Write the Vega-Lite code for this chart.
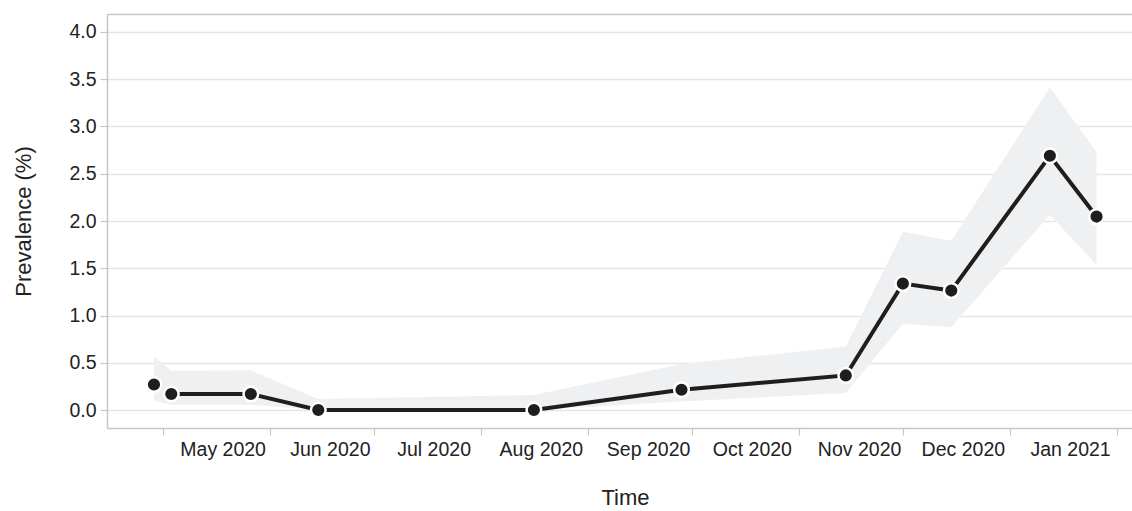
{
  "$schema": "https://vega.github.io/schema/vega-lite/v6.json",
  "autosize": "none",
  "padding": {"left": 107, "top": 14, "right": 0, "bottom": 83},
  "width": 1025,
  "height": 414,
  "background": "white",
  "config": {
    "view": {"stroke": null},
    "font": "Liberation Sans",
    "axis": {
      "labelFont": "Liberation Sans",
      "titleFont": "Liberation Sans",
      "labelColor": "#222222",
      "titleColor": "#222222",
      "labelFontSize": 19.5,
      "titleFontSize": 22,
      "titleFontWeight": "normal",
      "domainColor": "#c6c6c6",
      "domainWidth": 1.5,
      "tickColor": "#c6c6c6",
      "tickWidth": 1.2,
      "tickSize": 7,
      "gridColor": "#e6e6e6",
      "gridWidth": 1.3
    }
  },
  "data": {
    "values": [
      {"date": "2020-04-28T12:00:00", "est": 0.27, "lo": 0.10, "hi": 0.57},
      {"date": "2020-05-03T12:00:00", "est": 0.17, "lo": 0.056, "hi": 0.415},
      {"date": "2020-05-26T12:00:00", "est": 0.17, "lo": 0.056, "hi": 0.42},
      {"date": "2020-06-15T00:00:00", "est": 0.0, "lo": 0.0, "hi": 0.116},
      {"date": "2020-08-16T08:00:00", "est": 0.0, "lo": 0.0, "hi": 0.16},
      {"date": "2020-09-28T00:00:00", "est": 0.215, "lo": 0.09, "hi": 0.486},
      {"date": "2020-11-14T12:00:00", "est": 0.366, "lo": 0.18, "hi": 0.672},
      {"date": "2020-12-01T00:00:00", "est": 1.338, "lo": 0.912, "hi": 1.885},
      {"date": "2020-12-15T00:00:00", "est": 1.264, "lo": 0.877, "hi": 1.79},
      {"date": "2021-01-12T12:00:00", "est": 2.69, "lo": 2.066, "hi": 3.414},
      {"date": "2021-01-26T00:00:00", "est": 2.047, "lo": 1.534, "hi": 2.73}
    ]
  },
  "resolve": {"axis": {"x": "independent"}},
  "encoding": {
    "y": {
      "type": "quantitative",
      "scale": {"domain": [-0.19, 4.19], "nice": false, "zero": false},
      "axis": {
        "values": [0, 0.5, 1, 1.5, 2, 2.5, 3, 3.5, 4],
        "format": ".1f",
        "labelPadding": 4,
        "title": "Prevalence (%)",
        "titleX": -77,
        "titleBaseline": "alphabetic",
        "titleAngle": -90
      }
    }
  },
  "layer": [
    {
      "mark": {"type": "area", "color": "#eff0f2", "opacity": 1},
      "encoding": {
        "x": {
          "field": "date",
          "type": "temporal",
          "scale": {"domain": [{"year": 2020, "month": "apr", "date": 14, "hours": 22}, {"year": 2021, "month": "feb", "date": 5, "hours": 6}]},
          "axis": {
            "orient": "bottom",
            "tickCount": {"interval": "month", "step": 1},
            "labelExpr": "year(datum.value) == 2021 && month(datum.value) == 1 ? '' : timeFormat(datum.value, '%b %Y')",
            "labelAlign": "center",
            "labelOffset": 60,
            "labelBound": false,
            "labelOverlap": false,
            "labelFlush": false,
            "labelPadding": 5,
            "grid": false,
            "title": "Time",
            "titleX": 518,
            "titleY": 76,
            "titleBaseline": "alphabetic"
          }
        },
        "y": {"field": "lo"},
        "y2": {"field": "hi"}
      }
    },
    {
      "transform": [{"filter": "toDate(datum.date) > datetime(2020, 3, 30)"}],
      "mark": {"type": "line", "color": "#1e1e1e", "strokeWidth": 4},
      "encoding": {
        "x": {"field": "date", "type": "temporal", "axis": null},
        "y": {"field": "est"}
      }
    },
    {
      "mark": {"type": "point", "shape": "circle", "filled": true, "fill": "#1e1e1e", "stroke": "white", "strokeWidth": 2.5, "size": 215, "opacity": 1},
      "encoding": {
        "x": {
          "field": "date",
          "type": "temporal",
          "axis": {"orient": "top", "labels": false, "ticks": false, "domain": true, "grid": false, "title": null}
        },
        "y": {"field": "est"}
      }
    }
  ]
}
